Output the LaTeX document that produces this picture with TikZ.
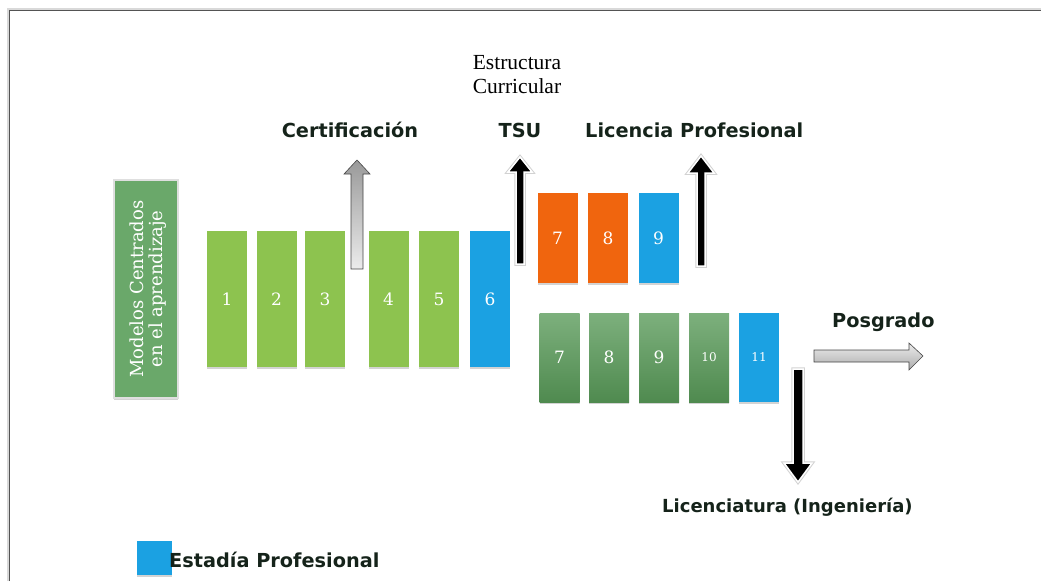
\documentclass[tikz,border=0pt]{standalone}
\usepackage{fontspec}
\newfontfamily\lblfont{DejaVu Sans}
\newfontfamily\boxfont{DejaVu Serif}
\newfontfamily\titlefont{Liberation Serif}
\usetikzlibrary{shadows}
\definecolor{lgreen}{HTML}{8DC34F}
\definecolor{sblue}{HTML}{1BA1E2}
\definecolor{sorange}{HTML}{F0650E}
\definecolor{dgreentop}{HTML}{7DB07D}
\definecolor{dgreenbot}{HTML}{4F8A4F}
\definecolor{mgreen}{HTML}{6AA86A}
\definecolor{lbltext}{HTML}{15231A}
\tikzset{
  semester/.style={rectangle, inner sep=0pt, minimum width=40pt, text=white,
    font=\boxfont\fontsize{17}{17}\selectfont,
    drop shadow={shadow xshift=0pt,shadow yshift=-2pt,opacity=0.35}},
  smallnum/.style={font=\boxfont\fontsize{12}{12}\selectfont},
  dgbox/.style={semester, top color=dgreentop, bottom color=dgreenbot, minimum height=89pt},
  lbl/.style={font=\lblfont\bfseries\fontsize{19.3}{19.3}\selectfont, text=lbltext, inner sep=0pt},
  grayarrow/.style={top color=gray!80, bottom color=gray!15, draw=gray!55!black, line width=0.6pt},
  grayarrowh/.style={top color=gray!15, bottom color=gray!65, draw=gray!55!black, line width=0.6pt},
  blackarrow/.style={fill=black, draw=white, line width=1.5pt, preaction={draw=gray!35, line width=3.5pt}},
}
\begin{document}
\begin{tikzpicture}[x=1pt,y=-1pt]
\useasboundingbox (0,0) rectangle (1041,581);
% window border
\draw[color=gray!30, line width=2pt] (8,581) -- (8,9) -- (1041,9);
\draw[color=gray!65!black, line width=1pt] (9.8,581) -- (9.8,10.8) -- (1041,10.8);

% title
\node[font=\titlefont\fontsize{21.5}{24}\selectfont, align=center, inner sep=0pt] (title) at (517,75) {Estructura\\Curricular};

% model box
\node[rectangle, fill=mgreen, draw=gray!25, line width=1.5pt, minimum width=64pt, minimum height=218pt,
  inner sep=0pt, text=white, align=center, font=\boxfont\fontsize{18}{21}\selectfont,
  drop shadow={shadow xshift=0pt,shadow yshift=-2pt,opacity=0.35}] (model) at (146,289)
  {\rotatebox{90}{\raisebox{-3pt}[\height][\depth]{\begin{tabular}{@{}c@{}}Modelos Centrados\\[-2pt]en el aprendizaje\end{tabular}}}};

% first row
\node[semester, fill=lgreen, minimum height=136pt] (s1) at (227,299) {1};
\node[semester, fill=lgreen, minimum height=136pt] (s2) at (276.5,299) {2};
\node[semester, fill=lgreen, minimum height=136pt] (s3) at (325,299) {3};
\node[semester, fill=lgreen, minimum height=136pt] (s4) at (388.5,299) {4};
\node[semester, fill=lgreen, minimum height=136pt] (s5) at (439,299) {5};
\node[semester, fill=sblue, minimum height=136pt] (s6) at (490,299) {6};

% licencia profesional row
\node[semester, fill=sorange, minimum height=90pt] (o7) at (557.5,238) {7};
\node[semester, fill=sorange, minimum height=90pt] (o8) at (608,238) {8};
\node[semester, fill=sblue, minimum height=90pt] (o9) at (658.5,238) {9};

% ingenieria row
\node[dgbox] (g7) at (559.5,357.5) {7};
\node[dgbox] (g8) at (609,357.5) {8};
\node[dgbox] (g9) at (659,357.5) {9};
\node[dgbox, smallnum] (g10) at (709,357.5) {10};
\node[semester, fill=sblue, minimum height=89pt, smallnum] (g11) at (759,357.5) {11};

% arrows
\path[grayarrow] (351,269) -- (351,174) -- (344,174) -- (357,160) -- (370,174) -- (363,174) -- (363,269) -- cycle;
\path[blackarrow] (516,264) -- (516,172) -- (508,172) -- (520,157) -- (532,172) -- (524,172) -- (524,264) -- cycle;
\path[blackarrow] (697,266) -- (697,173) -- (688,173) -- (701,156) -- (714,173) -- (705,173) -- (705,266) -- cycle;
\path[blackarrow] (793,369) -- (793,463) -- (784,463) -- (798,482) -- (812,463) -- (803,463) -- (803,369) -- cycle;
\path[grayarrowh] (814,350) -- (909,350) -- (909,343) -- (923,356) -- (909,370) -- (909,362) -- (814,362) -- cycle;

% labels
\node[lbl] (cert) at (350,130) {Certificación};
\node[lbl] (tsu) at (520,130) {TSU};
\node[lbl, anchor=west] (licp) at (585,130) {Licencia Profesional};
\node[lbl, anchor=west] (posg) at (832,322) {Posgrado};
\node[lbl, anchor=west, font=\lblfont\bfseries\fontsize{18}{18}\selectfont] (ling) at (662,507) {Licenciatura (Ingeniería)};

% legend
\node[rectangle, fill=sblue, minimum width=35pt, minimum height=34pt, inner sep=0pt,
  drop shadow={shadow xshift=0pt,shadow yshift=-2pt,opacity=0.35}] (legbox) at (154.5,558) {};
\node[lbl, anchor=west] (legtext) at (169,560) {Estadía Profesional};
\end{tikzpicture}
\end{document}
